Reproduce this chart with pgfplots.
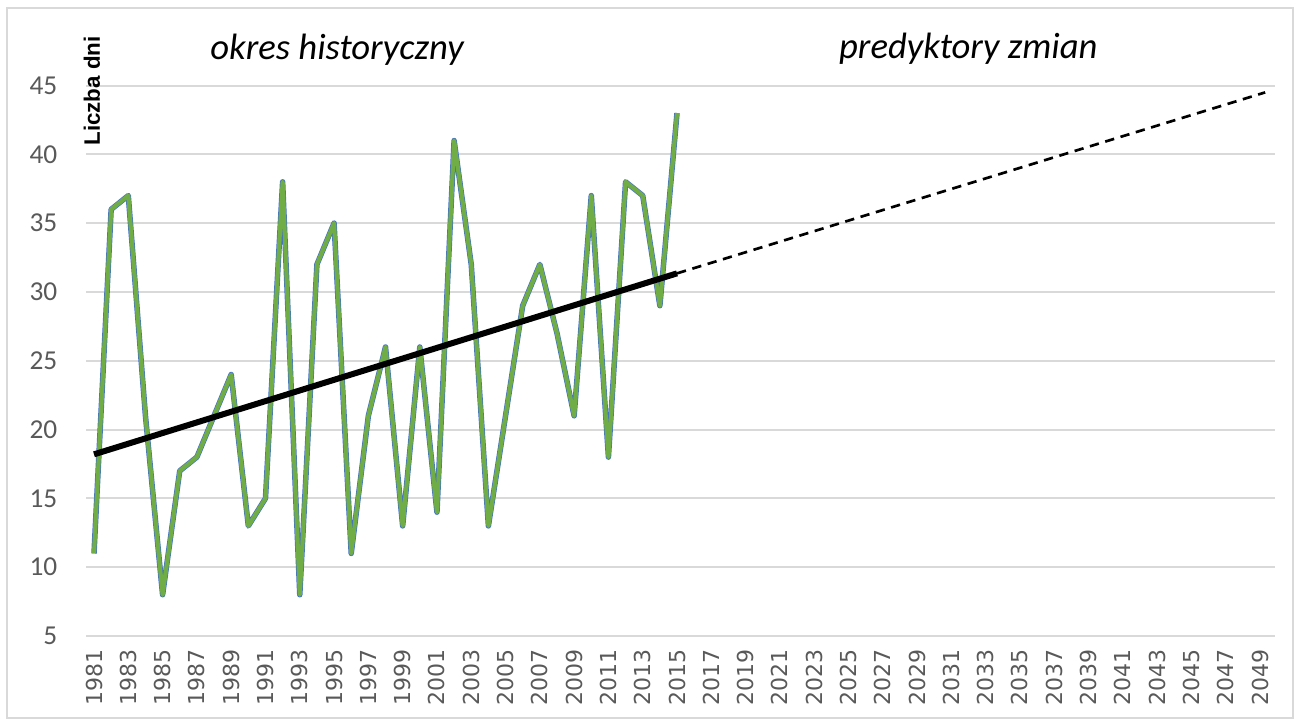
\documentclass[border=0pt]{standalone}
\usepackage{fontspec}
\setmainfont{Carlito}
\newfontfamily\tickfont{DejaVu Sans}
\newfontfamily\labfont{Liberation Sans}
\usepackage{pgfplots}
\usepackage{pgfplotstable}
\pgfplotsset{compat=1.18}

\definecolor{gridgray}{HTML}{D9D9D9}
\definecolor{labgray}{HTML}{595959}
\definecolor{linegreen}{HTML}{70AD47}
\definecolor{lineblue}{HTML}{4472C4}

% liczba dni w roku, okres historyczny
\pgfplotstableread{
year days
1981 11
1982 36
1983 37
1984 21
1985 8
1986 17
1987 18
1988 21
1989 24
1990 13
1991 15
1992 38
1993 8
1994 32
1995 35
1996 11
1997 21
1998 26
1999 13
2000 26
2001 14
2002 41
2003 32
2004 13
2005 21
2006 29
2007 32
2008 27
2009 21
2010 37
2011 18
2012 38
2013 37
2014 29
2015 43
}\histdata

\begin{document}
\begin{tikzpicture}
\useasboundingbox (0,0) rectangle (389.4pt,217.8pt);
\draw[gridgray, line width=0.6pt] (2.1pt,2.4pt) rectangle (387.9pt,215.4pt);

\begin{axis}[
  at={(25.8pt,27pt)}, anchor=south west,
  scale only axis,
  width=356.8pt, height=165.15pt,
  xmin=1980.533, xmax=2049.89,
  ymin=5, ymax=45,
  xtick={1981,1983,...,2049},
  ytick={5,10,...,45},
  ymajorgrids,
  grid style={gridgray, line width=0.6pt},
  axis line style={draw=none},
  major tick length=0pt,
  /pgf/number format/1000 sep={},
  /pgf/number format/assume math mode=true,
  xticklabel style={rotate=90, anchor=east, inner sep=0pt, xshift=-3.9pt,
    font=\tickfont\fontsize{6.6}{7}\selectfont, text=labgray},
  yticklabel style={anchor=east, inner sep=0pt, xshift=-8.4pt,
    font=\fontsize{8.2}{9}\selectfont, text=labgray},
]

% obramowanie linii (niebieskie) pod zielona linia
\addplot[lineblue, line width=1.65pt, line join=round] table[x=year, y=days] {\histdata};
\addplot[linegreen, line width=1.25pt, line join=round] table[x=year, y=days] {\histdata};

% trend liniowy i jego przedluzenie
\addplot[black, line width=1.8pt] coordinates {(1981,18.2) (2015,31.35)};
\addplot[black, line width=0.8pt, dash pattern=on 2.8pt off 2pt]
  coordinates {(2015,31.35) (2049.3,44.5)};

\end{axis}

\node[anchor=base, font=\fontsize{11}{13}\selectfont\itshape] at (101.1pt,200.1pt) {okres historyczny};
\node[anchor=base, font=\fontsize{11}{13}\selectfont\itshape] at (290.5pt,200.4pt) {predyktory zmian};
\node[rotate=90, font=\labfont\fontsize{6.7}{8}\selectfont\bfseries] at (27.6pt,190.5pt) {Liczba dni};
\end{tikzpicture}
\end{document}
